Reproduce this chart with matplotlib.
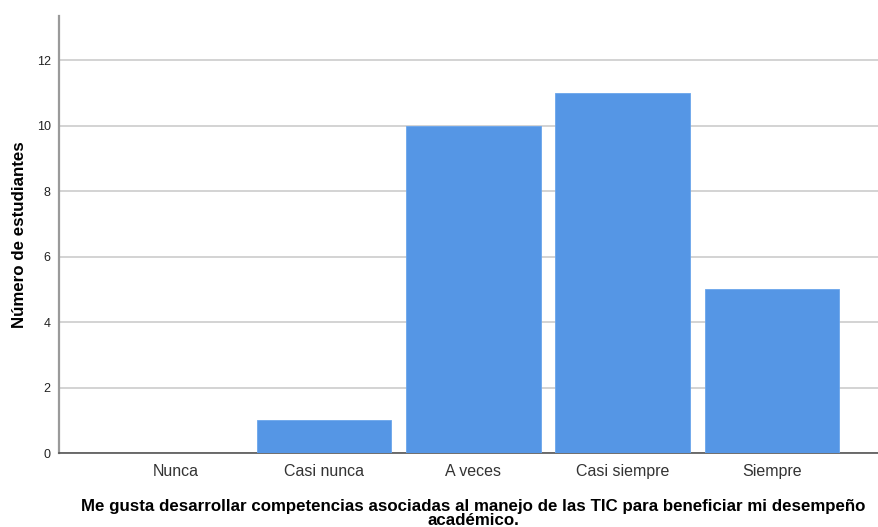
import matplotlib
matplotlib.use("Agg")
import matplotlib.pyplot as plt

categories = ["Nunca", "Casi nunca", "A veces", "Casi siempre", "Siempre"]
counts = [0, 1, 10, 11, 5]
yticks = [0, 2, 4, 6, 8, 10, 12]

plt.rcParams["font.family"] = ["Liberation Sans", "DejaVu Sans"]

fig = plt.figure(figsize=(8.79, 5.27), dpi=100)
ax = fig.add_axes([0.0671, 0.1404, 0.9329, 0.8292])

x = list(range(len(categories)))
ax.bar(x, counts, width=0.9, color="#5596e5", edgecolor="#6aa5ec",
       linewidth=0.6, zorder=3)

ax.set_xlim(-0.78, 4.72)
ax.set_ylim(0, 13.35)
ax.set_yticks(yticks)
ax.set_yticklabels([str(v) for v in yticks], fontsize=9, color="#222222")
ax.set_xticks(x)
ax.set_xticklabels(categories, fontsize=11.5, color="#333333")
ax.tick_params(axis="both", length=0)
ax.tick_params(axis="x", pad=8)
ax.tick_params(axis="y", pad=6)

ax.grid(axis="y", color="#d3d3d3", linewidth=1.4, zorder=0)
for s in ["top", "right"]:
    ax.spines[s].set_visible(False)
ax.spines["left"].set_color("#9a9a9a")
ax.spines["left"].set_linewidth(1.6)
ax.spines["bottom"].set_color("#555555")
ax.spines["bottom"].set_linewidth(1.2)

ax.set_ylabel("Número de estudiantes", fontsize=12.2, fontweight="bold",
              labelpad=7)
ax.set_xlabel("Me gusta desarrollar competencias asociadas al manejo de las TIC "
              "para beneficiar mi desempeño\nacadémico.",
              fontsize=12.2, fontweight="bold", linespacing=0.92, labelpad=14)
ax.xaxis.label.set_x(0.505)

fig.savefig("out.png", dpi=100)
